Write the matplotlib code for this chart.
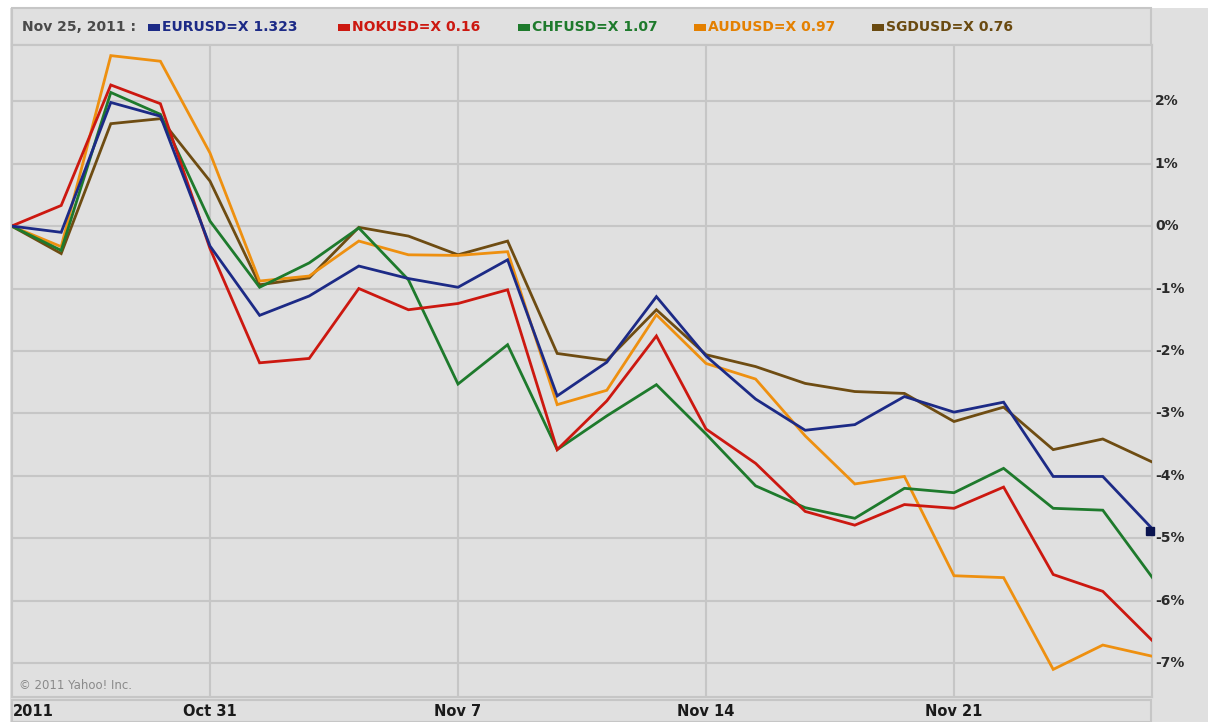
import numpy as np
import matplotlib
matplotlib.use("Agg")
import matplotlib.pyplot as plt
from matplotlib.patches import Rectangle

# % change since Oct 25, 2011 (trading days Oct 25 .. Nov 25)
eur = [0, -0.10, 1.98, 1.76, -0.32, -1.43, -1.12, -0.64, -0.84, -0.98, -0.54, -2.72,
       -2.18, -1.13, -2.08, -2.77, -3.27, -3.18, -2.73, -2.98, -2.82, -4.01, -4.01, -4.85]
nok = [0, 0.33, 2.26, 1.96, -0.36, -2.19, -2.12, -1.00, -1.34, -1.24, -1.02, -3.58,
       -2.80, -1.76, -3.25, -3.80, -4.57, -4.79, -4.46, -4.52, -4.18, -5.58, -5.85, -6.64]
chf = [0, -0.39, 2.14, 1.79, 0.08, -0.98, -0.59, -0.03, -0.86, -2.53, -1.90, -3.58,
       -3.04, -2.54, -3.33, -4.16, -4.51, -4.68, -4.20, -4.27, -3.88, -4.52, -4.55, -5.63]
aud = [0, -0.33, 2.73, 2.64, 1.17, -0.88, -0.80, -0.24, -0.46, -0.47, -0.41, -2.86,
       -2.63, -1.42, -2.20, -2.45, -3.36, -4.13, -4.01, -5.60, -5.63, -7.10, -6.71, -6.89]
sgd = [0, -0.44, 1.64, 1.72, 0.72, -0.94, -0.83, -0.02, -0.16, -0.46, -0.24, -2.04,
       -2.15, -1.34, -2.06, -2.25, -2.52, -2.65, -2.68, -3.13, -2.90, -3.58, -3.41, -3.78]

names = ["EURUSD=X", "NOKUSD=X", "CHFUSD=X", "AUDUSD=X", "SGDUSD=X"]
last_prices = ["1.323", "0.16", "1.07", "0.97", "0.76"]
colors = ["#1c2a86", "#cc1810", "#1e7a2c", "#ee9010", "#6e4c12"]
legend_colors = ["#1c2a86", "#cc1810", "#1e7a2c", "#e48000", "#6a4a10"]
series = [eur, nok, chf, aud, sgd]
draw_order = [4, 3, 2, 1, 0]

x_ticks = [0, 4, 9, 14, 19]
x_labels = ["2011", "Oct 31", "Nov 7", "Nov 14", "Nov 21"]
y_ticks = [2, 1, 0, -1, -2, -3, -4, -5, -6, -7]

W, H = 1208, 722
BG = "#e0e0e0"
GRID = "#c6c6c6"
FONT = ["DejaVu Sans"]

fig = plt.figure(figsize=(W / 100, H / 100), dpi=100, facecolor="white")


def fx(px):
    return px / W


def fy(py):
    return 1 - py / H


# grey panel behind everything
fig.patches.append(Rectangle((fx(10), 0), 1 - fx(10), fy(8), transform=fig.transFigure,
                             facecolor=BG, edgecolor="none", zorder=-5))
# legend box
fig.patches.append(Rectangle((fx(12), fy(45)), fx(1151 - 12), (45 - 8) / H,
                             transform=fig.transFigure, facecolor=BG,
                             edgecolor=GRID, lw=1.5, zorder=-4))
# date strip box
fig.patches.append(Rectangle((fx(12), fy(722)), fx(1151 - 12), (722 - 700) / H,
                             transform=fig.transFigure, facecolor=BG,
                             edgecolor=GRID, lw=1.5, zorder=-4))

left, right, top, bottom = 11.6, 1152.4, 45, 697
ax = fig.add_axes([fx(left), fy(bottom), fx(right - left), (bottom - top) / H])
ax.set_zorder(5)
ax.set_facecolor(BG)
ax.set_xlim(0, 23)
ax.set_ylim(-7.542, 2.900)

for v in y_ticks:
    ax.axhline(v, color=GRID, lw=1.5, zorder=1)
for t in x_ticks[1:]:
    ax.axvline(t, color=GRID, lw=1.5, zorder=1)
for s in ax.spines.values():
    s.set_color(GRID)
    s.set_linewidth(1.5)
ax.set_xticks([])
ax.set_yticks([])

x = np.arange(len(eur))
for i in draw_order:
    ax.plot(x, series[i], color=colors[i], lw=2.0, solid_joinstyle="miter", zorder=3)
ax.plot([x[-1] - 0.05], [eur[-1] - 0.03], marker="s", ms=6, color="#0a1450",
        zorder=4, clip_on=False)

# right-hand % labels
for v in y_ticks:
    ax.text(23.05, v, f"{v}%", ha="left", va="center", fontsize=10,
            fontweight="bold", color="#2a2a2a", family=FONT, clip_on=False)

ax.text(0.15, -7.36, "\u00a9 2011 Yahoo! Inc.", fontsize=8.5, color="#8a8a8a",
        family=FONT, va="center", ha="left")

# date labels along the bottom strip
for t, lab in zip(x_ticks, x_labels):
    xp = left + (right - left) * t / 23
    ha = "left" if t == 0 else "center"
    fig.text(fx(xp + (1 if t == 0 else 0)), fy(712), lab, ha=ha, va="center",
             fontsize=10.5, fontweight="bold", color="#1a1a1a", family=FONT)

# legend line
fig.text(fx(22), fy(27), "Nov 25, 2011 :", ha="left", va="center", fontsize=10,
         fontweight="bold", color="#4a4a4a", family=FONT)
leg_x = [148, 338, 518, 694, 872]
for i in range(5):
    fig.patches.append(Rectangle((fx(leg_x[i]), fy(31)), fx(12), 7 / H,
                                 transform=fig.transFigure, facecolor=legend_colors[i],
                                 edgecolor="none", zorder=-3))
    fig.text(fx(leg_x[i] + 14), fy(27), f"{names[i]} {last_prices[i]}", ha="left",
             va="center", fontsize=10, fontweight="bold", color=legend_colors[i],
             family=FONT)

fig.savefig("out.png", dpi=100, facecolor="white")
